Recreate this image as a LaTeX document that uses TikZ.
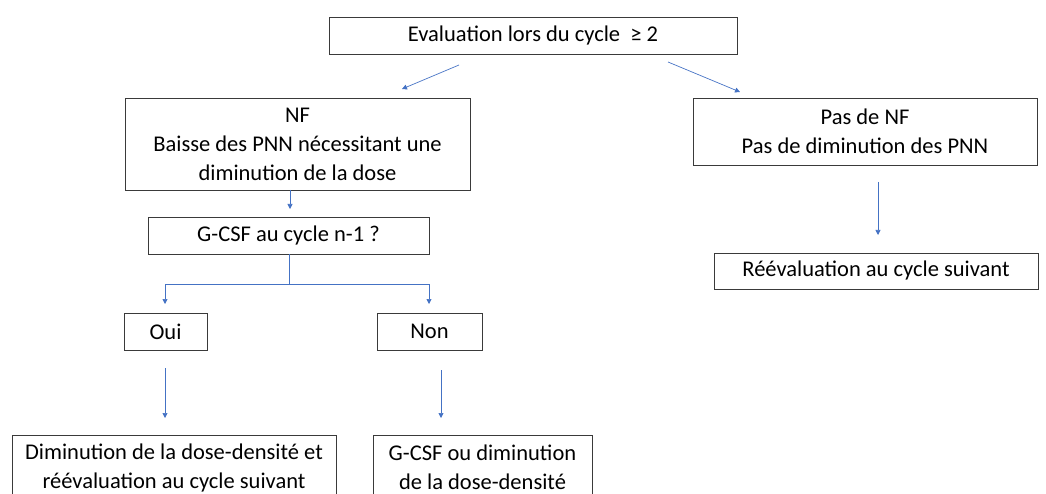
\documentclass[tikz,border=0pt]{standalone}
\usepackage{fontspec}
\setmainfont{Carlito}
\usetikzlibrary{arrows.meta}
\definecolor{flowblue}{HTML}{4472C4}
\definecolor{boxgray}{HTML}{3A3A3A}
\begin{document}
\begin{tikzpicture}[x=1pt,y=-1pt,
  box/.style={draw=boxgray,line width=0.9pt,align=center,inner sep=0pt,
    font=\fontsize{22.5}{29}\selectfont},
  flow/.style={draw=flowblue,line width=0.7pt,-{Triangle[width=5pt,length=5pt]}},
  trunk/.style={draw=flowblue,line width=0.7pt}]
\useasboundingbox (0,0) rectangle (1046,494);
\clip (0,0) rectangle (1046,494);
% Boxes, top to bottom
\node[box,minimum width=408pt,minimum height=37pt] (eval) at (533,35.5) {Evaluation lors du cycle\ \ ≥ 2};
\node[box,minimum width=345pt,minimum height=92pt] (nf) at (297.5,144) {NF\\Baisse des PNN nécessitant une\\diminution de la dose};
\node[box,minimum width=344pt,minimum height=67pt] (pasnf) at (865,131.5) {Pas de NF\\Pas de diminution des PNN};
\node[box,minimum width=281pt,minimum height=37pt] (gcsf) at (288.5,235.5) {G-CSF au cycle n-1 ?};
\node[box,minimum width=324pt,minimum height=36pt] (reeval) at (876,271) {Réévaluation au cycle suivant};
\node[box,minimum width=83pt,minimum height=37pt] (oui) at (165.5,331.5) {Oui};
\node[box,minimum width=105pt,minimum height=37pt] (non) at (429.5,331.5) {Non};
\node[box,minimum width=324pt,minimum height=65pt] (dimin) at (174,467.5) {Diminution de la dose-densité et\\réévaluation au cycle suivant};
\node[box,minimum width=219pt,minimum height=65pt] (gcsfou) at (482.5,467.5) {G-CSF ou diminution\\de la dose-densité};
% Free ends of the connectors
\coordinate (evalL) at (459,65);
\coordinate (nfT) at (402,89);
\coordinate (evalR) at (668,62);
\coordinate (pasnfT) at (740,92);
\coordinate (nfB) at (290,190);
\coordinate (gcsfT) at (290,209);
\coordinate (split) at (289,284);
\coordinate (ouiT) at (165,304);
\coordinate (nonT) at (429,304);
\coordinate (ouiB) at (165,368);
\coordinate (diminT) at (165,418);
\coordinate (nonB) at (441,370);
\coordinate (gcsfouT) at (441,418);
\coordinate (pasnfB) at (878,182);
\coordinate (reevalT) at (878,235);
% Connectors
\draw[flow] (evalL) -- (nfT);
\draw[flow] (evalR) -- (pasnfT);
\draw[flow] (nfB) -- (gcsfT);
\draw[trunk] (gcsf.south -| split) -- (split);
\draw[flow] (split) -| (ouiT);
\draw[flow] (split) -| (nonT);
\draw[flow] (ouiB) -- (diminT);
\draw[flow] (nonB) -- (gcsfouT);
\draw[flow] (pasnfB) -- (reevalT);
\end{tikzpicture}
\end{document}
